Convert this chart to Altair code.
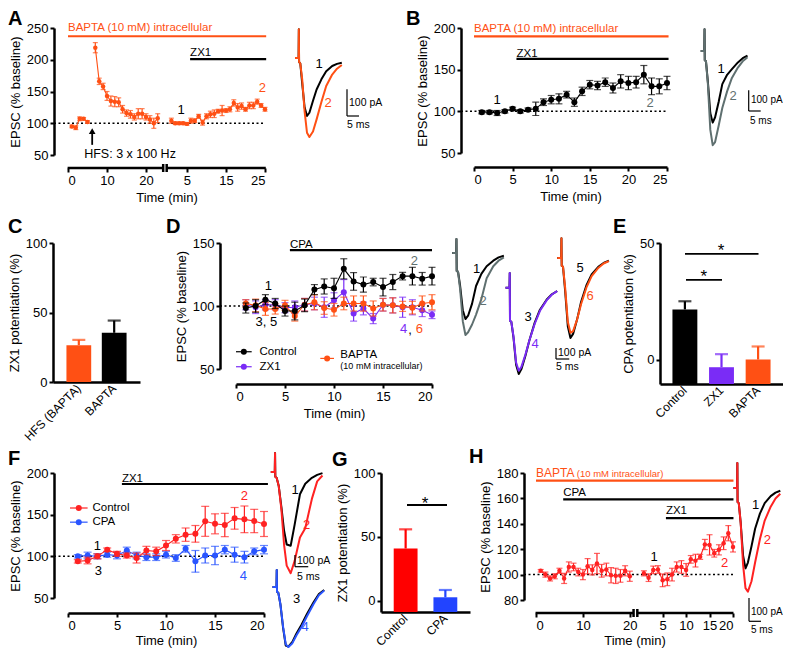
import altair as alt
import pandas as pd

FONT = "Liberation Sans"
BLACK = "#000000"
ORANGE = "#FF5014"
PURPLE = "#7A2CF6"
RED = "#FF2222"
BLUE = "#2A55FF"
GRAY = "#5F7070"
BAR_RED = "#FF0000"
BAR_BLUE = "#2244FF"

# ---------------- data ----------------
# Panel A: HFS under BAPTA, then ZX1
A_PRE_T = [1, 2, 3, 4, 5]
A_PRE_V = [95, 93, 107, 107, 102]
A_PRE_E = [2, 3, 3, 2, 2]
A_HFS_T = [7, 8, 9, 10, 11, 12, 13, 14, 15, 16, 17, 18, 19, 20, 21, 22, 23]
A_HFS_V = [219, 166, 158, 143, 135, 134, 133, 122, 116, 114, 110, 115, 115, 110, 106, 100, 108]
A_HFS_E = [8, 5, 5, 7, 8, 8, 7, 6, 5, 6, 5, 8, 8, 5, 6, 8, 7]
A_ZX_T = list(range(1, 26))
A_ZX_V = [104, 100, 100, 100, 99, 104, 104, 111, 101, 111, 114, 115, 119, 120, 120, 122, 132, 125, 127, 122, 128, 128, 134, 128, 122]
A_ZX_E = [4, 2, 2, 2, 2, 4, 3, 3, 4, 4, 5, 6, 3, 8, 3, 4, 5, 6, 5, 3, 5, 5, 4, 3, 3]
A_BREAK = 25.5

# Panel B
B_T = list(range(1, 26))
B_V = [99, 99, 98, 100, 103, 100, 102, 103, 111, 114, 115, 120, 111, 124, 132, 131, 135, 128, 136, 134, 135, 144, 130, 130, 134]
B_E = [2, 2, 3, 2, 2, 2, 2, 8, 4, 5, 6, 4, 5, 5, 5, 5, 5, 6, 8, 8, 7, 11, 10, 9, 8]

# Panel C
C_CATS = ["HFS (BAPTA)", "BAPTA"]
C_VALS = [26.5, 35.4]
C_ERRS = [3.8, 8.8]

# Panel D
D_T = list(range(1, 21))
D_CTRL_V = [98.4, 100, 105, 102, 96, 96, 100.5, 113, 115.5, 114, 129.5, 119.5, 117, 119, 115, 119, 123.7, 123.7, 121.6, 123.7]
D_CTRL_E = [4, 5, 4, 4, 4, 7, 5, 4, 6, 8, 8, 7, 6, 3, 7, 6, 3, 7, 5, 7]
D_ZX1_V = [101, 99, 101, 101, 98.7, 99, 101, 102, 99, 104.5, 111, 94, 98, 90, 101, 100.5, 99, 99, 96.6, 93]
D_ZX1_E = [4, 5, 4, 4, 4, 5, 5, 5, 8, 6, 10, 6, 5, 4, 5, 6, 8, 6, 5, 3]
D_BAP_V = [102, 100.5, 97.6, 97.6, 100.5, 92, 101, 103, 98.4, 97, 102, 102, 102, 98, 101, 100.5, 99.7, 98.7, 102, 103]
D_BAP_E = [3, 5, 5, 4, 4, 4, 5, 6, 5, 5, 5, 6, 6, 6, 5, 6, 4, 5, 6, 6]

# Panel E
E_CATS = ["Control", "ZX1", "BAPTA"]
E_VALS = [21.5, -3.3, 0.0]
E_ERRS = [3.5, 5.6, 5.6]

# Panel F
F_T = list(range(1, 21))
F_CTRL_V = [94, 95, 100, 108, 103, 101, 98, 107, 106, 113, 121, 126, 127, 142, 139, 137.6, 145.6, 144.4, 142.4, 138.8]
F_CTRL_E = [2, 4, 3, 2, 3, 3, 6, 5, 5, 6, 5, 8, 10, 18, 12, 14, 13, 16, 14, 15]
F_CPA_V = [100, 101, 100, 102, 101, 107, 101, 99, 99, 102, 98, 109, 94, 101, 101, 108, 102, 99, 106, 108]
F_CPA_E = [2, 4, 3, 3, 4, 4, 4, 4, 4, 4, 4, 4, 13, 9, 11, 5, 9, 7, 4, 5]

# Panel G
G_CATS = ["Control", "CPA"]
G_VALS = [41.0, 2.9]
G_ERRS = [15.0, 5.7]

# Panel H
H_T = list(range(1, 21))
H1_V = [103, 100, 97, 98.7, 103, 97, 106, 106, 102, 100, 106.6, 103.7, 108.7, 103, 104, 99.5, 99, 99, 103, 98.7]
H1_E = [1, 2, 2, 2, 2, 4, 4, 3, 3, 4, 6, 4, 8, 5, 5, 6, 6, 5, 4, 4]
H2_V = [101, 97.6, 103.7, 104, 95.5, 96.3, 100, 106, 106, 103.7, 112, 111, 114, 123.7, 123.4, 116.8, 119.5, 124.7, 132.6, 121.8]
H2_E = [2, 3, 3, 3, 5, 5, 5, 4, 5, 5, 3, 5, 2, 4, 8, 3, 4, 5, 6, 4]
H_BREAK = 22

# Example EPSC traces (time in ms, current in pA)
T_MS = [0, 1.5, 1.6, 1.7, 2.2, 3.0, 4.0, 5.0, 6.0, 7.5, 9.0, 11.0, 13.0, 15.5, 17.5, 19.5]
TR_A1 = [0, 0, 108, -15, -20, -95, -185, -217, -205, -160, -118, -80, -50, -30, -22, -18]
TR_A2 = [0, 0, 108, -15, -20, -80, -200, -280, -296, -275, -230, -165, -105, -62, -40, -26]
TR_B1 = [0, 0, 105, -45, -50, -150, -300, -346, -320, -245, -160, -115, -88, -55, -35, -22]
TR_B2 = [0, 0, 105, -45, -50, -160, -380, -455, -440, -360, -275, -195, -130, -80, -50, -30]
TR_D1 = [0, 0, 127, -164, -170, -300, -520, -600, -570, -460, -300, -190, -120, -70, -40, -25]
TR_D2 = [0, 0, 127, -164, -170, -330, -620, -745, -720, -650, -560, -420, -230, -120, -70, -40]
TR_D3 = [0, 0, 133, -300, -310, -450, -700, -785, -740, -620, -480, -320, -200, -110, -60, -30]
TR_D4 = [0, 0, 133, -300, -310, -440, -680, -755, -720, -610, -480, -330, -210, -115, -62, -32]
TR_D5 = [0, 0, 180, -70, -80, -300, -620, -727, -690, -560, -400, -250, -150, -80, -45, -25]
TR_D6 = [0, 0, 180, -70, -80, -270, -580, -680, -665, -560, -420, -270, -165, -90, -50, -28]
TR_F1 = [0, 0, 162, -40, -50, -120, -300, -500, -620, -630, -450, -190, -100, -50, -25, -10]
TR_F2 = [0, 0, 162, -40, -50, -120, -320, -620, -800, -865, -760, -560, -480, -230, -80, -30]
TR_F3 = [0, 0, 145, -40, -50, -150, -350, -500, -510, -470, -400, -320, -230, -130, -60, -25]
TR_F4 = [0, 0, 145, -40, -50, -150, -340, -490, -513, -480, -415, -340, -250, -145, -70, -30]
TR_H1 = [0, 0, 107, -60, -65, -150, -290, -345, -320, -250, -175, -110, -65, -35, -20, -12]
TR_H2 = [0, 0, 107, -60, -65, -150, -330, -430, -445, -400, -320, -220, -140, -80, -45, -25]


# ---------------- helpers ----------------
def sdf(t, v, e, shift=0.0):
    return pd.DataFrame({
        "t": [x + shift for x in t], "v": v,
        "lo": [a - b for a, b in zip(v, e)], "hi": [a + b for a, b in zip(v, e)],
    })


class Panel:
    def __init__(self, w, h, xdom, ydom, xa, ya):
        self.w, self.h = w, h
        self.xs = alt.Scale(domain=xdom, nice=False, zero=False)
        self.ys = alt.Scale(domain=ydom, nice=False, zero=False)
        self.xa, self.ya = xa, ya

    def X(self, f):
        return alt.X(f, type="quantitative", scale=self.xs, axis=self.xa)

    def Y(self, f):
        return alt.Y(f, type="quantitative", scale=self.ys, axis=self.ya)


def series(p, df, color, size=30, cap=6):
    b = alt.Chart(df)
    return [
        b.mark_rule(color=color, strokeWidth=1.2).encode(x=p.X("t"), y=p.Y("lo"), y2="hi"),
        b.mark_tick(color=color, orient="horizontal", size=cap, thickness=1.2).encode(x=p.X("t"), y=p.Y("hi")),
        b.mark_tick(color=color, orient="horizontal", size=cap, thickness=1.2).encode(x=p.X("t"), y=p.Y("lo")),
        b.mark_line(color=color, strokeWidth=1.1).encode(x=p.X("t"), y=p.Y("v")),
        b.mark_point(color=color, filled=True, opacity=1, size=size).encode(x=p.X("t"), y=p.Y("v")),
    ]


def texts(p, xs, ys, ss, color=BLACK, size=13, align="center", baseline="middle"):
    df = pd.DataFrame({"x": xs, "y": ys, "s": ss})
    return alt.Chart(df).mark_text(color=color, fontSize=size, align=align, baseline=baseline,
                                   font=FONT).encode(x=p.X("x"), y=p.Y("y"), text="s:N")


def drug(p, x0, x1, y, label, ty, color=BLACK, size=11.5):
    df = pd.DataFrame({"x": [x0], "x2": [x1], "y": [y]})
    r = alt.Chart(df).mark_rule(color=color, strokeWidth=2.2).encode(x=p.X("x"), x2="x2", y=p.Y("y"))
    t = texts(p, [x0], [ty], [label], color=color, size=size, align="left", baseline="alphabetic")
    return [r, t]


def dotted(p, yoff):
    df = pd.DataFrame({"y": [100]})
    return alt.Chart(df).mark_rule(color=BLACK, strokeWidth=1.5, strokeDash=[2, 2.5]).encode(
        x=alt.value(-yoff), x2=alt.value(p.w), y=p.Y("y"))


def letter(ch, dx, dy):
    return alt.Chart(pd.DataFrame({"s": [ch]})).mark_text(
        fontSize=20, fontWeight="bold", align="left", baseline="top", font=FONT, color=BLACK
    ).encode(x=alt.value(dx), y=alt.value(dy), text="s:N")


def anchor(dx, dy):
    # invisible point that pins a row's bounding box
    return alt.Chart(pd.DataFrame({"z": [0]})).mark_point(
        size=1, filled=True, opacity=0, strokeWidth=0).encode(x=alt.value(dx), y=alt.value(dy))


def broken_axis(p, segs, ypix):
    df = pd.DataFrame({"x": [s[0] for s in segs], "x2": [s[1] for s in segs]})
    line = alt.Chart(df).mark_rule(color=BLACK, strokeWidth=2.5).encode(
        x=p.X("x"), x2="x2", y=alt.value(ypix))
    ends = pd.DataFrame({"x": [segs[0][1], segs[1][0]]})
    caps = alt.Chart(ends).mark_rule(color=BLACK, strokeWidth=2.5).encode(
        x=p.X("x"), y=alt.value(ypix - 4), y2=alt.value(ypix + 4))
    return [line, caps]


def legend_item(p, x0, x1, y, color, label, tx, size=11.5):
    df = pd.DataFrame({"x": [x0], "x2": [x1], "y": [y], "xm": [(x0 + x1) / 2]})
    r = alt.Chart(df).mark_rule(color=color, strokeWidth=1.2).encode(x=p.X("x"), x2="x2", y=p.Y("y"))
    pt = alt.Chart(df).mark_point(color=color, filled=True, opacity=1, size=36).encode(x=p.X("xm"), y=p.Y("y"))
    out = [r, pt]
    if label:
        out.append(texts(p, [tx], [y], [label], size=size, align="left"))
    return out


def spacer(w, h=1):
    return alt.Chart(pd.DataFrame({"z": [0]})).mark_point(opacity=0, size=1, strokeWidth=0).encode(
        x=alt.value(0), y=alt.value(0)).properties(width=w, height=h)


def trace_panel(w, h, x0, y0, k, s, traces, labels, bar, sh=0.0):
    xs = alt.Scale(domain=[0, w / k], nice=False, zero=False)
    ys = alt.Scale(domain=[-h / s, 0], nice=False, zero=False)

    def X(f):
        return alt.X(f, type="quantitative", scale=xs, axis=None)

    def Y(f):
        return alt.Y(f, type="quantitative", scale=ys, axis=None)

    layers = []
    for tx, by, vals, color in traces:
        toff = (tx + sh - x0) / k
        yoff = -(by - y0) / s
        df = pd.DataFrame({"t": [t + toff for t in T_MS], "i": [v + yoff for v in vals]})
        layers.append(alt.Chart(df).mark_line(color=color, strokeWidth=2, strokeJoin="round").encode(
            x=X("t"), y=Y("i")))
    bx, by = bar
    cx = (bx + sh - x0) / k
    cy = -(by - y0) / s
    sb = pd.DataFrame({"x": [cx, cx], "x2": [cx, cx + 5], "y": [cy, cy], "y2": [cy + 100, cy]})
    layers.append(alt.Chart(sb).mark_rule(color=BLACK, strokeWidth=1.2).encode(
        x=X("x"), x2="x2", y=Y("y"), y2="y2"))
    for txt, px, py, color, size, align in labels:
        layers.append(alt.Chart(pd.DataFrame({"s": [txt]})).mark_text(
            color=color, fontSize=size, align=align, baseline="middle", font=FONT
        ).encode(x=alt.value(px + sh - x0), y=alt.value(py - y0), text="s:N"))
    return alt.layer(*layers).properties(width=w, height=h)


def bar_panel(cats, vals, errs, colors, w, h, ydom, yvals, title, pi, po, cap=13):
    df = pd.DataFrame({
        "c": cats, "v": vals, "hi": [a + b for a, b in zip(vals, errs)],
        "base": [ydom[0]] * len(cats), "col": colors,
    })
    xs = alt.Scale(domain=cats, paddingInner=pi, paddingOuter=po)
    xa = alt.Axis(title=None, labelAngle=-45, labelAlign="right", labelBaseline="middle",
                  ticks=False, labelPadding=4, labelFontSize=12)
    ys = alt.Scale(domain=ydom, nice=False, zero=False)
    ya = alt.Axis(values=yvals, title=title)
    X = alt.X("c:N", scale=xs, axis=xa)
    b = alt.Chart(df)
    bars = b.mark_bar().encode(x=X, y=alt.Y("v:Q", scale=ys, axis=ya), y2="base",
                               color=alt.Color("col:N", scale=None))
    err = b.mark_rule(strokeWidth=2.2).encode(x=X, y=alt.Y("v:Q", scale=ys, axis=ya), y2="hi",
                                               color=alt.Color("col:N", scale=None))
    capm = b.mark_tick(orient="horizontal", size=cap, thickness=2.2).encode(
        x=X, y=alt.Y("hi:Q", scale=ys, axis=ya), color=alt.Color("col:N", scale=None))
    return [bars, err, capm], ys, ya


# ---------------- Panel A ----------------
pA = Panel(197, 127, [0, 50.5], [50, 250],
           alt.Axis(values=[0, 10, 20, 30.5, 40.5, 50.5],
                    labelExpr="datum.value > 25 ? datum.value - 25.5 : datum.value",
                    offset=13, domain=False, title="Time (min)"),
           alt.Axis(values=[50, 100, 150, 200, 250], offset=14, title="EPSC (% baseline)"))
arrow_df = pd.DataFrame({"x": [6.2], "y": [66], "y2": [85], "yt": [87.5]})
A_layers = (
    [dotted(pA, 14)]
    + drug(pA, 0, 50.8, 237, "BAPTA (10 mM) intracellular", 244.5, ORANGE)
    + drug(pA, 31.3, 50.8, 201, "ZX1", 205.5)
    + series(pA, sdf(A_PRE_T, A_PRE_V, A_PRE_E), ORANGE, size=20, cap=5)
    + series(pA, sdf(A_HFS_T, A_HFS_V, A_HFS_E), ORANGE, size=20, cap=5)
    + series(pA, sdf(A_ZX_T, A_ZX_V, A_ZX_E, A_BREAK), ORANGE, size=20, cap=5)
    + [texts(pA, [29], [121], ["1"]), texts(pA, [49.8], [156], ["2"], color=ORANGE),
       alt.Chart(arrow_df).mark_rule(color=BLACK, strokeWidth=1.8).encode(x=pA.X("x"), y=pA.Y("y"), y2="y2"),
       alt.Chart(arrow_df).mark_point(shape="triangle-up", filled=True, opacity=1, size=45, color=BLACK).encode(
           x=pA.X("x"), y=pA.Y("yt")),
       texts(pA, [15.9], [44.5], ["HFS: 3 x 100 Hz"], size=12.5, baseline="alphabetic")]
    + broken_axis(pA, [(-0.1, 24.4), (25.3, 50.7)], 127 + 13)
    + [letter("A", -60, -19), anchor(-59.5, 8 - 27), anchor(-59.5, 209.5 - 27)]
)
chA = alt.layer(*A_layers).properties(width=pA.w, height=pA.h)

chAtr = trace_panel(
    90, 127, 293, 27, 2.4, 0.267,
    [(295, 57, TR_A1, BLACK), (295, 57, TR_A2, ORANGE)],
    [("1", 319, 63, BLACK, 13, "center"), ("2", 328, 102, ORANGE, 13, "center"),
     ("100 pA", 349, 102, BLACK, 10.5, "left"), ("5 ms", 347, 124, BLACK, 10.5, "left")],
    (347, 115))

# ---------------- Panel B ----------------
pB = Panel(193, 125, [0, 25], [50, 200],
           alt.Axis(values=[0, 5, 10, 15, 20, 25], offset=14, title="Time (min)"),
           alt.Axis(values=[50, 100, 150, 200], offset=13, title="EPSC (% baseline)"))
B_layers = (
    [dotted(pB, 13)]
    + drug(pB, 0, 25.2, 190, "BAPTA (10 mM) intracellular", 195, ORANGE)
    + drug(pB, 5.5, 25.2, 163, "ZX1", 165.5)
    + series(pB, sdf(B_T, B_V, B_E), BLACK, size=36, cap=7)
    + [texts(pB, [3], [114], ["1"]), texts(pB, [22.8], [110], ["2"], color=GRAY),
       letter("B", -68, -19)]
)
chB = alt.layer(*B_layers).properties(width=pB.w, height=pB.h)

chBtr = trace_panel(
    85, 127, 698, 27, 2.4, 0.207,
    [(707.7, 50, TR_B1, BLACK), (707.7, 50, TR_B2, GRAY)],
    [("1", 728, 68, BLACK, 13, "center"), ("2", 740, 95, GRAY, 13, "center"),
     ("100 pA", 758, 99, BLACK, 10, "left"), ("5 ms", 757, 120, BLACK, 10, "left")],
    (755.7, 110), sh=-7)

# ---------------- Panel C ----------------
C_layers, _, _ = bar_panel(C_CATS, C_VALS, C_ERRS, [ORANGE, BLACK], 87, 139, [0, 100], [0, 50, 100],
                           "ZX1 potentiation (%)", 0.3, 0.38)
chC = alt.layer(*(C_layers + [letter("C", -45, -26), anchor(-44.5, 210.5 - 242),
                              anchor(-44.5, 439.5 - 242)])).properties(width=87, height=139)

# ---------------- Panel D ----------------
pD = Panel(196, 126, [0, 20], [50, 150],
           alt.Axis(values=[0, 5, 10, 15, 20], offset=15, title="Time (min)"),
           alt.Axis(values=[50, 100, 150], offset=16, title="EPSC (% baseline)"))
D_layers = (
    [dotted(pD, 16)]
    + drug(pD, 5.5, 20, 144.3, "CPA", 146.4)
    + series(pD, sdf(D_T, D_ZX1_V, D_ZX1_E), PURPLE, size=36, cap=7)
    + series(pD, sdf(D_T, D_BAP_V, D_BAP_E), ORANGE, size=36, cap=7)
    + series(pD, sdf(D_T, D_CTRL_V, D_CTRL_E), BLACK, size=36, cap=7)
    + [texts(pD, [3.3], [115.5], ["1"]), texts(pD, [3.1], [87], ["3, 5"]),
       texts(pD, [18.2], [136], ["2"], color=GRAY),
       texts(pD, [17.1], [82], ["4"], color=PURPLE), texts(pD, [17.75], [81], [","]),
       texts(pD, [18.7], [82], ["6"], color=ORANGE)]
    + legend_item(pD, 0.0, 1.6, 63.7, BLACK, "Control", 2.4)
    + legend_item(pD, 0.0, 1.6, 51.8, PURPLE, "ZX1", 2.4)
    + legend_item(pD, 8.6, 10.0, 58.4, ORANGE, None, 0)
    + [texts(pD, [10.65], [60.8], ["BAPTA"], size=11.5, align="left"),
       texts(pD, [10.65], [52.3], ["(10 mM intracellular)"], size=9, align="left"),
       letter("D", -70, -26)]
)
chD = alt.layer(*D_layers).properties(width=pD.w, height=pD.h)

chDtr = trace_panel(
    164, 141, 448, 242, 2.65, 0.11,
    [(452.2, 252, TR_D1, BLACK), (452.2, 252, TR_D2, GRAY),
     (505.5, 286.7, TR_D3, BLACK), (505.5, 286.7, TR_D4, PURPLE),
     (557.2, 257, TR_D5, BLACK), (557.2, 257, TR_D6, ORANGE)],
    [("1", 476.7, 268.3, BLACK, 13, "center"), ("2", 483, 300, GRAY, 13, "center"),
     ("3", 528, 316, BLACK, 13, "center"), ("4", 535, 343, PURPLE, 13, "center"),
     ("5", 580, 267, BLACK, 13, "center"), ("6", 590, 295, ORANGE, 13, "center"),
     ("100 pA", 558, 352, BLACK, 10.5, "left"), ("5 ms", 556, 366, BLACK, 10.5, "left")],
    (556, 358))

# ---------------- Panel E ----------------
E_layers, E_ys, E_ya = bar_panel(E_CATS, E_VALS, E_ERRS, [BLACK, PURPLE, ORANGE], 123, 141, [-10.5, 50], [0, 50],
                                 "CPA potentiation (%)", 0.32, 0.34)
sigE = pd.DataFrame({"y": [45.3, 34.2], "s": ["*", "*"]})
E_extra = [
    alt.Chart(sigE.iloc[[0]]).mark_rule(color=BLACK, strokeWidth=1.8).encode(
        x=alt.value(25), x2=alt.value(98.5), y=alt.Y("y:Q", scale=E_ys, axis=E_ya)),
    alt.Chart(sigE.iloc[[1]]).mark_rule(color=BLACK, strokeWidth=1.8).encode(
        x=alt.value(26), x2=alt.value(62), y=alt.Y("y:Q", scale=E_ys, axis=E_ya)),
    alt.Chart(sigE.iloc[[0]]).mark_text(fontSize=17, font=FONT, baseline="alphabetic").encode(
        x=alt.value(61), y=alt.value(13), text="s:N"),
    alt.Chart(sigE.iloc[[1]]).mark_text(fontSize=17, font=FONT, baseline="alphabetic").encode(
        x=alt.value(43.7), y=alt.value(39), text="s:N"),
    letter("E", -47, -26),
]
chE = alt.layer(*(E_layers + E_extra)).properties(width=123, height=141)

# ---------------- Panel F ----------------
pF = Panel(196, 125, [0, 20], [50, 200],
           alt.Axis(values=[0, 5, 10, 15, 20], offset=15, title="Time (min)", titlePadding=2),
           alt.Axis(values=[50, 100, 150, 200], offset=14, title="EPSC (% baseline)"))
F_layers = (
    [dotted(pF, 14)]
    + drug(pF, 5.5, 20.4, 186.8, "ZX1", 189.3)
    + series(pF, sdf(F_T, F_CPA_V, F_CPA_E), BLUE, size=36, cap=8)
    + series(pF, sdf(F_T, F_CTRL_V, F_CTRL_E), RED, size=36, cap=8)
    + [texts(pF, [3], [113], ["1"]), texts(pF, [3.1], [82], ["3"]),
       texts(pF, [18], [173], ["2"], color=RED), texts(pF, [17.9], [77], ["4"], color=BLUE)]
    + legend_item(pF, 0.2, 2.0, 158, RED, "Control", 2.5)
    + legend_item(pF, 0.2, 2.0, 141, BLUE, "CPA", 2.5)
    + [letter("F", -60, -24), anchor(-59.5, 443.5 - 473), anchor(-59.5, 649 - 473)]
)
chF = alt.layer(*F_layers).properties(width=pF.w, height=pF.h)

chFtr = trace_panel(
    58, 139, 272, 473, 2.65, 0.117,
    [(270.8, 472, TR_F1, BLACK), (270.8, 472, TR_F2, RED),
     (272.5, 587, TR_F3, BLACK), (272.5, 587, TR_F4, BLUE)],
    [("1", 295, 490, BLACK, 13, "center"), ("2", 306.7, 525, RED, 13, "center"),
     ("3", 296.7, 599, BLACK, 13, "center"), ("4", 305, 627, BLUE, 13, "center"),
     ("100 pA", 297, 561, BLACK, 10.5, "left"), ("5 ms", 297, 577, BLACK, 10.5, "left")],
    (295, 566.7))

# ---------------- Panel G ----------------
G_layers, G_ys, G_ya = bar_panel(G_CATS, G_VALS, G_ERRS, [BAR_RED, BAR_BLUE], 89, 139, [-8.6, 100], [0, 50, 100],
                                 "ZX1 potentiation (%)", 0.4, 0.32)
sigG = pd.DataFrame({"y": [75.0], "s": ["*"]})
G_extra = [
    alt.Chart(sigG).mark_rule(color=BLACK, strokeWidth=1.8).encode(
        x=alt.value(26), x2=alt.value(66), y=alt.Y("y:Q", scale=G_ys, axis=G_ya)),
    alt.Chart(sigG).mark_text(fontSize=17, font=FONT, baseline="alphabetic").encode(
        x=alt.value(44), y=alt.value(36), text="s:N"),
    letter("G", -49, -23),
]
chG = alt.layer(*(G_layers + G_extra)).properties(width=89, height=139)

# ---------------- Panel H ----------------
pH = Panel(197, 127, [0, 42], [80, 180],
           alt.Axis(values=[0, 10, 20, 27, 32, 37, 42],
                    labelExpr="datum.value > 21 ? datum.value - 22 : datum.value",
                    offset=13, domain=False, title="Time (min)", titlePadding=2),
           alt.Axis(values=[80, 100, 120, 140, 160, 180], offset=12, title="EPSC (% baseline)"))
H_layers = (
    [dotted(pH, 12)]
    + drug(pH, 0, 42.1, 174, "BAPTA", 177, ORANGE, size=12)
    + [texts(pH, [8.7], [177], ["(10 mM intracellular)"], color=ORANGE, size=9.5, align="left",
             baseline="alphabetic")]
    + drug(pH, 5.8, 42.1, 159.2, "CPA", 162)
    + drug(pH, 27.7, 42.1, 144.5, "ZX1", 147.5)
    + series(pH, sdf(H_T, H1_V, H1_E), RED, size=20, cap=6)
    + series(pH, sdf(H_T, H2_V, H2_E, H_BREAK), RED, size=20, cap=6)
    + [texts(pH, [25.2], [114], ["1"]), texts(pH, [40.2], [109.5], ["2"], color=RED)]
    + broken_axis(pH, [(-0.1, 20.8), (21.6, 42.1)], 127 + 13)
    + [letter("H", -67, -26)]
)
chH = alt.layer(*H_layers).properties(width=pH.w, height=pH.h)

chHtr = trace_panel(
    49, 139, 734, 473, 2.4, 0.233,
    [(739.5, 488, TR_H1, BLACK), (739.5, 488, TR_H2, RED)],
    [("1", 761.7, 505, BLACK, 13, "center"), ("2", 773.3, 540, RED, 13, "center"),
     ("100 pA", 757, 612, BLACK, 10, "left"), ("5 ms", 757, 630, BLACK, 10, "left")],
    (755, 621.3), sh=-6)

# ---------------- layout ----------------
# leading 15px spacers so every row's first cell origin sits at the same x as panel C
row1 = alt.hconcat(spacer(15), chA, spacer(28), chAtr, spacer(91), chB, spacer(31), chBtr,
                   spacing=0, bounds="flush")
row2 = alt.hconcat(chC, spacer(96), chD, spacer(16), chDtr, spacer(48), chE,
                   spacing=0, bounds="flush")
row3 = alt.hconcat(spacer(15), chF, spacer(8), chFtr, spacer(51), chG, spacer(66), chH, spacer(1), chHtr,
                   spacing=0, bounds="flush")

chart = alt.vconcat(row1, row2, row3, spacing=0).properties(
    padding={"left": 0, "top": 0, "right": 0, "bottom": 0}
).configure(
    font=FONT, padding={"left": 0, "top": 0, "right": 0, "bottom": 0}
).configure_view(stroke=None).configure_axis(
    domainColor=BLACK, domainWidth=2.5, tickColor=BLACK, tickWidth=2, tickSize=4,
    labelFont=FONT, titleFont=FONT, labelFontSize=13, titleFontSize=13, titleFontWeight="normal",
    labelColor=BLACK, titleColor=BLACK, grid=False, labelPadding=2, titlePadding=4,
)

chart.save("out.html", embed_options={"renderer": "svg", "actions": False})
